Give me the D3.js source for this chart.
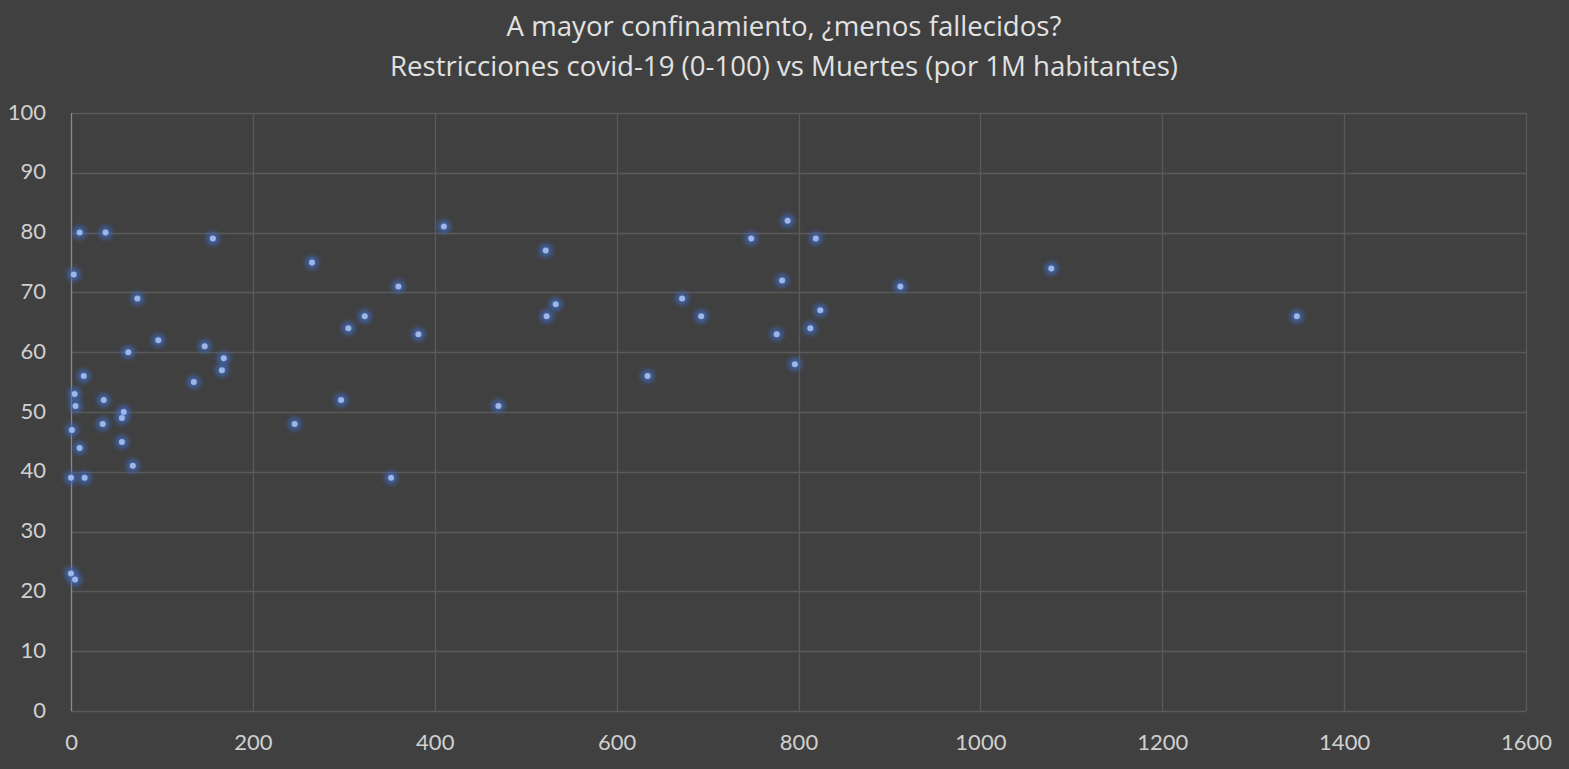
<!DOCTYPE html>
<html>
<head>
<meta charset="utf-8">
<script src="https://cdn.jsdelivr.net/npm/d3@7"></script>
<style>
  html, body { margin: 0; padding: 0; background: #404040; }
  svg { display: block; }
</style>
</head>
<body>
<svg id="chart" width="1569" height="769"></svg>
<script>
const titleLines = [
  "A mayor confinamiento, ¿menos fallecidos?",
  "Restricciones covid-19 (0-100) vs Muertes (por 1M habitantes)"
];
const xTicks = [0, 200, 400, 600, 800, 1000, 1200, 1400, 1600];
const yTicks = [0, 10, 20, 30, 40, 50, 60, 70, 80, 90, 100];
// deaths per 1M inhabitants
const deaths = [
  9.5, 38, 156, 3, 73, 96, 63, 147, 168, 166, 135, 14, 4, 5, 36, 58, 56, 35, 1, 56, 9.5, 68, 0, 15, 0, 4.5,
  410, 265, 522, 360, 533, 523, 323, 305, 382, 297, 470, 246, 352,
  788, 748, 819, 1078, 782, 912, 672, 824, 693, 813, 776, 796, 634, 1348
];
// restriction index (0-100)
const restrictions = [
  80, 80, 79, 73, 69, 62, 60, 61, 59, 57, 55, 56, 53, 51, 52, 50, 49, 48, 47, 45, 44, 41, 39, 39, 23, 22,
  81, 75, 77, 71, 68, 66, 66, 64, 63, 52, 51, 48, 39,
  82, 79, 79, 74, 72, 71, 69, 67, 66, 64, 63, 58, 56, 66
];

const W = 1569, H = 769;
const m = { left: 71, right: W - 1526, top: 113, bottom: H - 711 };
const svg = d3.select("#chart");
const font = "Lato, 'Noto Sans', sans-serif";
const titleFont = "'Open Sans', Lato, sans-serif";

const x = d3.scaleLinear().domain([0, 1600]).range([m.left, W - m.right]);
const y = d3.scaleLinear().domain([0, 100]).range([H - m.bottom, m.top]);

const defs = svg.append("defs");
const f = defs.append("filter").attr("id", "glow").attr("x", "-100%").attr("y", "-100%").attr("width", "300%").attr("height", "300%");
f.append("feGaussianBlur").attr("stdDeviation", 2.6);

// grid
svg.append("g").selectAll("line.h").data(yTicks).join("line")
  .attr("x1", x(0)).attr("x2", x(1600))
  .attr("y1", d => Math.round(y(d)) + 0.5).attr("y2", d => Math.round(y(d)) + 0.5)
  .attr("stroke", "#5a5a5a").attr("stroke-width", 1.3);
svg.append("g").selectAll("line.v").data(xTicks.filter(d => d > 0)).join("line")
  .attr("y1", y(0)).attr("y2", y(100))
  .attr("x1", d => Math.round(x(d)) + 0.5).attr("x2", d => Math.round(x(d)) + 0.5)
  .attr("stroke", "#5a5a5a").attr("stroke-width", 1.3);
// vertical axis line
svg.append("line")
  .attr("x1", Math.round(x(0)) + 0.5).attr("x2", Math.round(x(0)) + 0.5)
  .attr("y1", y(0)).attr("y2", y(100))
  .attr("stroke", "#8a8a8a").attr("stroke-width", 1.3);

// axes labels via d3 axes
const yAxis = d3.axisLeft(y).tickValues(yTicks).tickFormat(d3.format("d")).tickSize(0).tickPadding(0);
const gy = svg.append("g").attr("transform", `translate(${x(0) - 25},-1)`).call(yAxis);
gy.select(".domain").remove();
gy.selectAll("text").attr("fill", "#d0d0d0").style("font-family", font).style("font-size", "22px");

const xAxis = d3.axisBottom(x).tickValues(xTicks).tickFormat(d3.format("d")).tickSize(0).tickPadding(0);
const gx = svg.append("g").attr("transform", `translate(0,${y(0) + 23})`).call(xAxis);
gx.select(".domain").remove();
gx.selectAll("text").attr("fill", "#d0d0d0").style("font-family", font).style("font-size", "22px");

// points
const pts = deaths.map((d, i) => [d, restrictions[i]]);
svg.append("g").selectAll("circle.g").data(pts).join("circle")
  .attr("cx", d => x(d[0])).attr("cy", d => y(d[1])).attr("r", 6.5)
  .attr("fill", "#3f68b8").attr("opacity", 0.85).attr("filter", "url(#glow)");
svg.append("g").selectAll("circle.p").data(pts).join("circle")
  .attr("cx", d => x(d[0])).attr("cy", d => y(d[1])).attr("r", 3)
  .attr("fill", "#9db6e6");

// title
svg.append("g").selectAll("text").data(titleLines).join("text")
  .attr("x", 784).attr("y", (d, i) => 36 + i * 39.5)
  .attr("text-anchor", "middle")
  .attr("fill", "#e2e2e2").style("font-family", titleFont).style("font-size", "27.6px")
  .text(d => d);
</script>
</body>
</html>
